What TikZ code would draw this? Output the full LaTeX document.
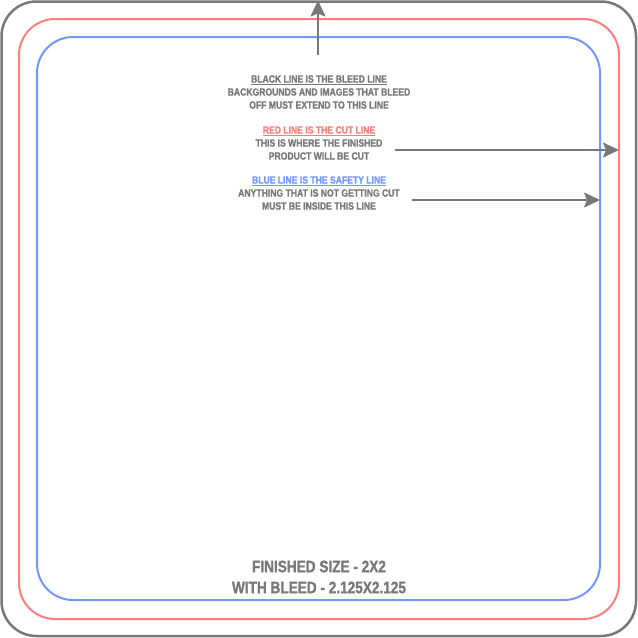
\documentclass[tikz,border=0pt]{standalone}
\usepackage{fontspec}
\setmainfont{Liberation Sans}[FakeStretch=0.82,BoldFeatures={FakeStretch=0.82,FakeBold=1.2}]
\usetikzlibrary{arrows.meta}
\definecolor{bleedgray}{RGB}{120,120,120}
\definecolor{cutred}{RGB}{255,125,125}
\definecolor{safeblue}{RGB}{115,150,255}
\tikzset{
  note/.style={text=bleedgray,font=\bfseries\fontsize{10.5}{13}\selectfont,align=center,inner sep=0pt},
  big/.style={text=bleedgray,font=\bfseries\fontsize{16.6}{21}\selectfont,align=center,inner sep=0pt},
  pointer/.style={draw=bleedgray,line width=2pt,-{Stealth[length=16pt,width=15pt,inset=3pt]}}
}
\begin{document}
\begin{tikzpicture}[x=1pt,y=-1pt]
\useasboundingbox (0,0) rectangle (638,638);
\draw[bleedgray,line width=2.5pt,rounded corners=35pt] (1.5,1.5) rectangle (636,636);
\draw[cutred,line width=2pt,rounded corners=36pt] (19,19) rectangle (619,619);
\draw[safeblue,line width=2pt,rounded corners=36pt] (37,37) rectangle (600,600);

\node[note] (black) at (319,92) {{\color{bleedgray}\underline{BLACK LINE IS THE BLEED LINE}}\\BACKGROUNDS AND IMAGES THAT BLEED\\OFF MUST EXTEND TO THIS LINE};
\node[note] (red) at (319,143) {{\color{cutred}\underline{RED LINE IS THE CUT LINE}}\\THIS IS WHERE THE FINISHED\\PRODUCT WILL BE CUT};
\node[note] (blue) at (319,193) {{\color{safeblue}\underline{BLUE LINE IS THE SAFETY LINE}}\\ANYTHING THAT IS NOT GETTING CUT\\MUST BE INSIDE THIS LINE};
\node[big] (size) at (319,577) {FINISHED SIZE - 2X2\\WITH BLEED - 2.125X2.125};

\coordinate (upstart) at (318,55);
\coordinate (uptip) at (318,0.5);
\coordinate (cutstart) at (395,150);
\coordinate (cuttip) at (619,150);
\coordinate (safestart) at (412,200);
\coordinate (safetip) at (600,200);
\draw[pointer] (upstart) -- (uptip);
\draw[pointer] (cutstart) -- (cuttip);
\draw[pointer] (safestart) -- (safetip);
\end{tikzpicture}
\end{document}
